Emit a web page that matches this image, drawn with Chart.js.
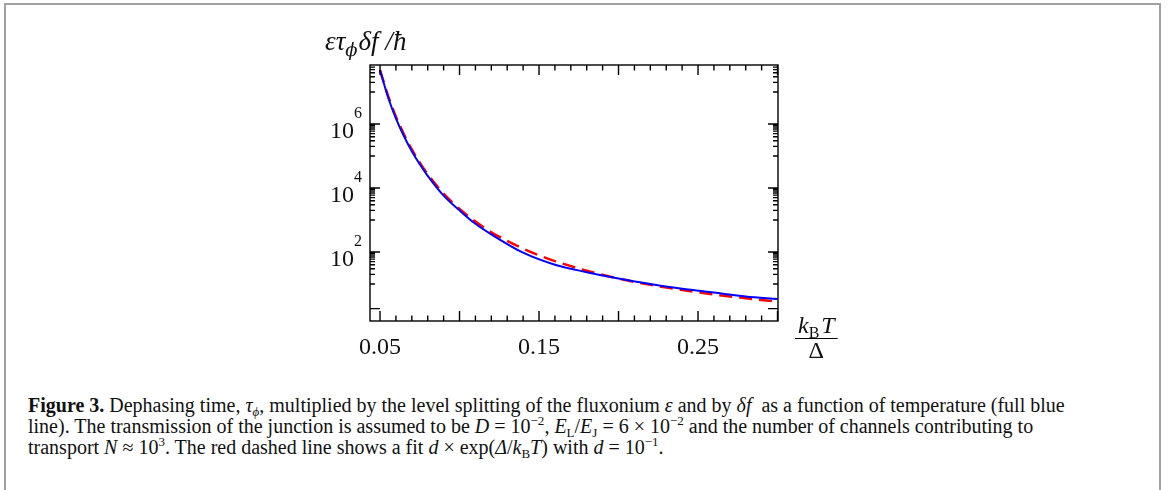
<!DOCTYPE html>
<html>
<head>
<meta charset="utf-8">
<script src="https://cdn.jsdelivr.net/npm/chart.js@4.4.0/dist/chart.umd.min.js"></script>
<style>
  body { margin: 0; background: #fff; width: 1168px; height: 490px; overflow: hidden; position: relative; }
  #frame { position: absolute; left: 4px; top: 3px; width: 1157px; height: 520px; border: 2px solid #a0a0a0; box-sizing: border-box; }
  #wrap { position: absolute; left: 0; top: 0; width: 1168px; height: 390px; }
  #caption { position: absolute; left: 28px; top: 395px; font-family: "Liberation Serif", serif; font-size: 20px; line-height: 21px; color: #111; white-space: nowrap; }
  #caption sup, #caption sub { font-size: 13px; line-height: 0; position: relative; vertical-align: baseline; }
  #caption sup { top: -8px; }
  #caption sub { top: 4px; }
</style>
</head>
<body>
<div id="frame"></div>
<div id="wrap"><canvas id="myChart" width="1168" height="390"></canvas></div>
<div id="caption">
<b>Figure 3.</b> Dephasing time, <i>τ<sub>ϕ</sub></i>, multiplied by the level splitting of the fluxonium <i>ε</i> and by <i>δf</i>&nbsp; as a function of temperature (full blue<br>
line). The transmission of the junction is assumed to be <i>D</i> = 10<sup>−2</sup>, <i>E</i><sub>L</sub>/<i>E</i><sub>J</sub> = 6 × 10<sup>−2</sup> and the number of channels contributing to<br>
transport <i>N</i> ≈ 10<sup>3</sup>. The red dashed line shows a fit <i>d</i> × exp(<i>Δ</i>/<i>k</i><sub>B</sub><i>T</i>) with <i>d</i> = 10<sup>−1</sup>.
</div>
<script>
// temperature k_B T / Δ
const temps = [0.05, 0.055, 0.06, 0.065, 0.07, 0.075, 0.08, 0.09, 0.10, 0.11, 0.12, 0.14, 0.16, 0.18, 0.20, 0.22, 0.24, 0.26, 0.28, 0.30];
// full blue line (computed dephasing)
const dephasing = [4.8e7, 7.0e6, 1.5e6, 4.2e5, 1.4e5, 5.5e4, 2.4e4, 5.8e3, 2.0e3, 760, 355, 95, 40, 23.4, 14.8, 10, 7.1, 5.4, 4.1, 3.4];
// red dashed fit
const fit = [4.9e7, 7.8e6, 1.7e6, 4.8e5, 1.6e5, 6.2e4, 2.7e4, 6.7e3, 2.2e3, 890, 415, 127, 52, 26, 14.8, 9.4, 6.5, 4.7, 3.6, 2.8];

const xLabelValues = [0.05, 0.15, 0.25];
const xLabels = ['0.05', '0.15', '0.25'];
const xMajorTicks = [0.05, 0.10, 0.15, 0.20, 0.25, 0.30];
const yLabelValues = [1e2, 1e4, 1e6];
const yLabelExps = ['2', '4', '6'];
const yMajorTicks = [1.7, 1e2, 1e4, 1e6];

// minor ticks
const xMinorTicks = [];
for (let i = 5; i <= 30; i++) xMinorTicks.push(i / 100);
const yMinorTicks = [];
[1, 3, 5, 7].forEach(n => {
    for (let k = 1; k <= 9; k++) yMinorTicks.push(k * Math.pow(10, n));
});

function toPoints(xs, ys) {
    return xs.map((x, i) => ({x: x, y: ys[i]}));
}

const frameTicks = {
    id: 'frameTicks',
    afterDraw(chart) {
        const ctx = chart.ctx;
        const a = chart.chartArea;
        const x = chart.scales.x;
        const y = chart.scales.y;
        ctx.save();
        ctx.strokeStyle = '#000';
        ctx.lineWidth = 1.4;
        ctx.strokeRect(a.left, a.top, a.right - a.left, a.bottom - a.top);

        ctx.beginPath();
        function vtick(v, len) {
            const px = x.getPixelForValue(v);
            ctx.moveTo(px, a.bottom); ctx.lineTo(px, a.bottom - len);
            ctx.moveTo(px, a.top); ctx.lineTo(px, a.top + len);
        }
        function htick(v, len) {
            const py = y.getPixelForValue(v);
            if (py < a.top || py > a.bottom) return;
            ctx.moveTo(a.left, py); ctx.lineTo(a.left + len, py);
            ctx.moveTo(a.right, py); ctx.lineTo(a.right - len, py);
        }
        xMinorTicks.forEach(v => vtick(v, 5.5));
        xMajorTicks.forEach(v => vtick(v, 10));
        yMinorTicks.forEach(v => htick(v, 5));
        yMajorTicks.forEach(v => htick(v, 10));
        ctx.stroke();

        ctx.fillStyle = '#111';
        // x tick labels
        ctx.font = '24px "Liberation Serif"';
        ctx.textAlign = 'center';
        ctx.textBaseline = 'alphabetic';
        xLabelValues.forEach((v, i) => {
            ctx.fillText(xLabels[i], x.getPixelForValue(v), a.bottom + 33);
        });
        // y tick labels 10^n
        yLabelValues.forEach((v, i) => {
            const py = y.getPixelForValue(v);
            ctx.font = '24px "Liberation Serif"';
            ctx.textAlign = 'right';
            ctx.fillText('10', a.left - 16, py + 14);
            ctx.font = '16px "Liberation Serif"';
            ctx.textAlign = 'left';
            ctx.fillText(yLabelExps[i], a.left - 16, py - 6);
        });

        // y axis title: ε τ_ϕ δf / ħ
        let cx = a.left - 45;
        const by = a.top - 15;
        ctx.textAlign = 'left';
        ctx.font = 'italic 27px "Liberation Serif"';
        ctx.fillText('ετ', cx, by);
        cx += ctx.measureText('ετ').width;
        ctx.font = 'italic 18px "DejaVu Serif"';
        ctx.fillText('ϕ', cx, by + 6);
        cx += ctx.measureText('ϕ').width + 1;
        ctx.font = 'italic 27px "Liberation Serif"';
        ctx.fillText('δf /ħ', cx, by);

        // x axis title: k_B T / Δ
        const fx = a.right + 17;
        ctx.font = 'italic 24px "Liberation Serif"';
        ctx.fillText('k', fx + 3, a.bottom + 12);
        let kx = fx + 3 + ctx.measureText('k').width;
        ctx.font = '16px "Liberation Serif"';
        ctx.fillText('B', kx, a.bottom + 17);
        kx += ctx.measureText('B').width + 2;
        ctx.font = 'italic 24px "Liberation Serif"';
        ctx.fillText('T', kx, a.bottom + 12);
        kx += ctx.measureText('T').width;
        ctx.beginPath();
        ctx.lineWidth = 1.2;
        ctx.moveTo(fx, a.bottom + 17.5);
        ctx.lineTo(kx + 3, a.bottom + 17.5);
        ctx.stroke();
        ctx.font = '24px "Liberation Serif"';
        ctx.textAlign = 'center';
        ctx.fillText('Δ', (fx + kx + 3) / 2, a.bottom + 37);
        ctx.restore();
    }
};

new Chart("myChart", {
    type: "line",
    data: {
        datasets: [{
            data: toPoints(temps, dephasing),
            borderColor: '#0000ff',
            borderWidth: 2,
            pointRadius: 0,
            cubicInterpolationMode: 'monotone'
        }, {
            data: toPoints(temps, fit),
            borderColor: '#ff0000',
            borderWidth: 2.5,
            borderDash: [13, 7],
            pointRadius: 0,
            cubicInterpolationMode: 'monotone'
        }]
    },
    options: {
        responsive: false,
        animation: false,
        layout: {
            padding: {left: 370, right: 390, top: 65, bottom: 69}
        },
        plugins: {
            legend: {display: false},
            tooltip: {enabled: false}
        },
        scales: {
            x: {type: 'linear', display: false, min: 0.0437, max: 0.3003},
            y: {type: 'logarithmic', display: false, min: 0.698, max: 6.98e7}
        }
    },
    plugins: [frameTicks]
});
</script>
</body>
</html>
